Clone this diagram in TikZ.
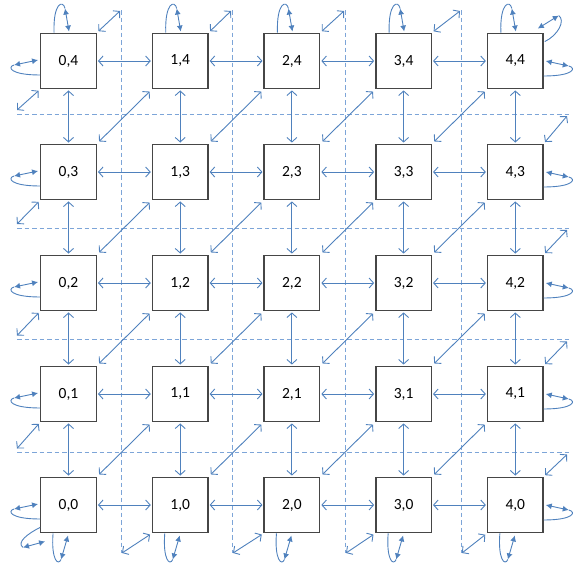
\documentclass[tikz,border=0pt]{standalone}
\usepackage{fontspec}
\setmainfont{Carlito}
\usetikzlibrary{arrows.meta}
\definecolor{arr}{RGB}{79,129,189}
\definecolor{dsh}{RGB}{125,165,216}
\definecolor{bx}{RGB}{70,70,70}
\begin{document}
\begin{tikzpicture}[x=1pt,y=-1pt,
 cell/.style={draw=bx, line width=1.4pt, fill=white, minimum size=55.5pt, inner sep=0pt, font=\fontsize{15.5}{18}\selectfont},
 biarr/.style={draw=arr, line width=0.9pt, {Straight Barb[length=4.5pt,width=10pt]}-{Straight Barb[length=4.5pt,width=10pt]}},
 looparr/.style={draw=arr, line width=0.9pt, {Latex[length=6pt,width=6pt]}-{Latex[length=6pt,width=6pt]}},
 looptail/.style={draw=arr, line width=0.9pt},
 gridline/.style={draw=dsh, line width=1pt, dash pattern=on 4.5pt off 3pt}]
\useasboundingbox (0,0) rectangle (579,565);
% dashed grid
\foreach \vx in {121.5,232.5,345.5,461.5} \draw[gridline] (\vx,10) -- (\vx,553);
\foreach \hy in {114.5,228.5,339.5,452.5} \draw[gridline] (17,\hy) -- (569,\hy);
% boxes
\foreach \i in {0,...,4}
  \foreach \j in {0,...,4}
    \node[cell] (b\i\j) at ({68.5+111.7*\i},{61+111*(4-\j)}) {\i,\j};
% horizontal
\foreach \i in {0,...,3}
  \foreach \j in {0,...,4}{
    \pgfmathtruncatemacro{\ni}{\i+1}
    \draw[biarr,shorten >=1pt,shorten <=1pt] (b\i\j.east) -- (b\ni\j.west);}
% vertical
\foreach \i in {0,...,4}
  \foreach \j in {1,...,4}{
    \pgfmathtruncatemacro{\nj}{\j-1}
    \draw[biarr,shorten >=1pt,shorten <=1pt] (b\i\j.south) -- (b\i\nj.north);}
% diagonals
\foreach \i in {0,...,3}
  \foreach \j in {0,...,3}{
    \pgfmathtruncatemacro{\ni}{\i+1}
    \pgfmathtruncatemacro{\nj}{\j+1}
    \draw[biarr,shorten >=3pt,shorten <=3pt] (b\i\j.north east) -- (b\ni\nj.south west);}
% boundary diagonals
\foreach \i/\vx in {0/121,1/232,2/345,3/461}{
  \coordinate (t\i) at (\vx-1,11);
  \draw[biarr,shorten <=2pt] (b\i4.north east) -- (t\i);}
\foreach \j/\hy in {4/114,3/228,2/339.5,1/452.5}{
  \coordinate (l\j) at (17,\hy-4);
  \draw[biarr,shorten <=2pt] (b0\j.south west) -- (l\j);}
\foreach \i/\vx in {1/121,2/232,3/345,4/461}{
  \coordinate (d\i) at (\vx+1,553);
  \draw[biarr,shorten <=2pt] (b\i0.south west) -- (d\i);}
\foreach \j/\hy in {3/114,2/228,1/339.5,0/452.5}{
  \coordinate (r\j) at (567,\hy+2);
  \draw[biarr,shorten <=2pt] (b4\j.north east) -- (r\j);}
% top loops
\foreach \i in {0,...,4}{
  \draw[looptail] ([shift={(14,0)}]b\i4.north west) .. controls ([shift={(13,-30)}]b\i4.north west) and ([shift={(23,-33)}]b\i4.north west) .. ([shift={(25,-24)}]b\i4.north west);
  \draw[looparr] ([shift={(25,-24)}]b\i4.north west) -- ([shift={(29,-1)}]b\i4.north west);}
% bottom loops
\foreach \i in {0,...,4}{
  \draw[looptail] ([shift={(13,0)}]b\i0.south west) .. controls ([shift={(11,26)}]b\i0.south west) and ([shift={(18,33)}]b\i0.south west) .. ([shift={(21,26)}]b\i0.south west);
  \draw[looparr] ([shift={(21,26)}]b\i0.south west) -- ([shift={(28,2)}]b\i0.south west);}
% left loops
\foreach \j in {0,...,4}{
  \draw[looptail] ([shift={(0,14)}]b0\j.west) .. controls ([shift={(-30,14)}]b0\j.west) and ([shift={(-33,6)}]b0\j.west) .. ([shift={(-26,4)}]b0\j.west);
  \draw[looparr] ([shift={(-26,4)}]b0\j.west) -- ([shift={(-2,-1)}]b0\j.west);}
% right loops
\foreach \j in {0,...,4}{
  \draw[looptail] ([shift={(0,15)}]b4\j.east) .. controls ([shift={(30,15)}]b4\j.east) and ([shift={(33,7)}]b4\j.east) .. ([shift={(25,5)}]b4\j.east);
  \draw[looparr] ([shift={(25,5)}]b4\j.east) -- ([shift={(2,0)}]b4\j.east);}
% corner loops
\draw[looptail] ([shift={(0,-6)}]b00.south west) .. controls ([shift={(-12,0)}]b00.south west) and ([shift={(-24,9)}]b00.south west) .. ([shift={(-17,14)}]b00.south west);
\draw[looparr] ([shift={(-17,14)}]b00.south west) -- ([shift={(5,8)}]b00.south west);
\draw[looptail] ([shift={(1,9)}]b44.north east) .. controls ([shift={(14,3)}]b44.north east) and ([shift={(22,-12)}]b44.north east) .. ([shift={(15,-17)}]b44.north east);
\draw[looparr] ([shift={(15,-17)}]b44.north east) -- ([shift={(-6,-4)}]b44.north east);
\end{tikzpicture}
\end{document}
